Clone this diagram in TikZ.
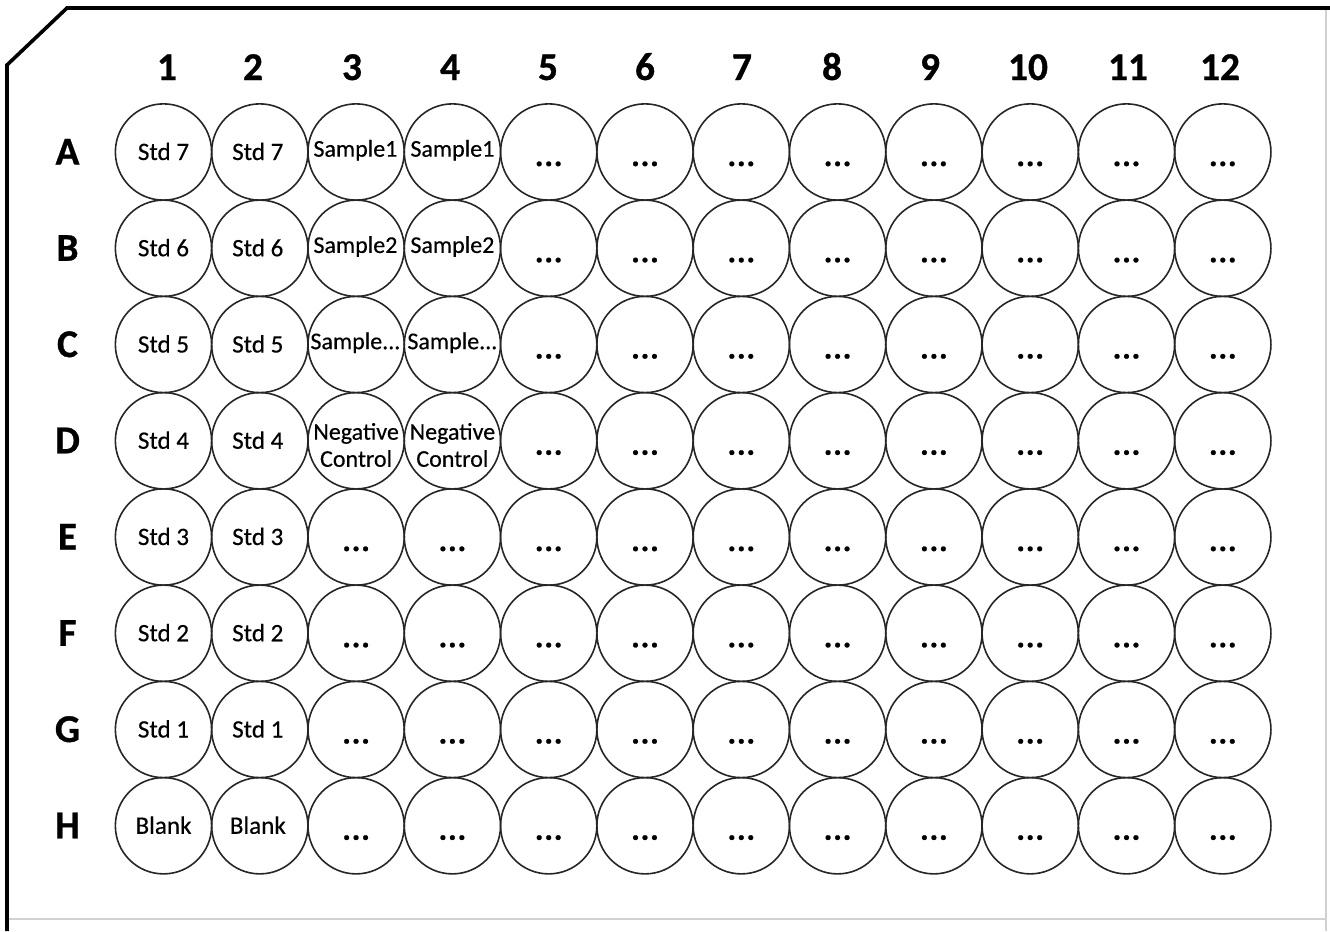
\documentclass[tikz,border=0pt]{standalone}
\usepackage{fontspec}
\setmainfont{Carlito}
\newfontfamily\plateheavy[FakeBold=0.8]{Carlito Bold}
\newfontfamily\platereg[FakeBold=0.4]{Carlito}
\begin{document}
\begin{tikzpicture}[x=0.75pt,y=-0.75pt,
  well/.style={circle,draw=black!85,line width=1.2pt,minimum size=72.2pt,inner sep=0pt},
  head/.style={font=\plateheavy\fontsize{29.5}{32}\selectfont,anchor=base,inner sep=0pt},
  stdtxt/.style={font=\platereg\fontsize{18.8}{21}\selectfont,anchor=base,inner sep=0pt},
  smptxt/.style={font=\platereg\fontsize{18}{20}\selectfont,anchor=base,inner sep=0pt},
  dots/.style={font=\plateheavy\fontsize{24}{26}\selectfont,anchor=base,inner sep=0pt},
  plate/.style={line width=2.7pt,line join=miter},
  faint/.style={draw=black!18,line width=0.8pt}]
\useasboundingbox (0,0) rectangle (1330,931);
% plate outline
\coordinate (pbl) at (7,931);
\coordinate (pc1) at (7,65);
\coordinate (pc2) at (67,8);
\coordinate (ptr) at (1331,8);
\coordinate (prt) at (1326,8);
\coordinate (prb) at (1326,931);
\coordinate (pbb1) at (9,919);
\coordinate (pbb2) at (1326,919);
\draw[faint] (prt) -- (prb);
\draw[faint] (pbb1) -- (pbb2);
\draw[plate] (pbl) -- (pc1) -- (pc2) -- (ptr);
% column headers
\foreach \c/\hx in {1/167,2/253,3/352,4/450,5/548,6/645,7/742,8/832,9/930,10/1028,11/1128,12/1220}
  \node[head] (col\c) at (\hx,80) {\c};
% rows
\foreach \r [count=\i from 0] in {A,B,C,D,E,F,G,H}{
  \pgfmathsetmacro{\yy}{152+96.25*\i}
  \node[head] (row\r) at (67.5,\yy+12.5) {\r};
  \foreach \c [count=\j from 0] in {1,2,3,4,5,6,7,8,9,10,11,12}{
    \pgfmathsetmacro{\xx}{163.5+96.3*\j}
    \node[well] (w\r\c) at (\xx,\yy) {};
  }
}
% standards and blanks
\foreach \r/\t in {A/Std 7,B/Std 6,C/Std 5,D/Std 4,E/Std 3,F/Std 2,G/Std 1,H/Blank}{
  \node[stdtxt] (t\r1) at ([yshift=-6pt]w\r1.center) {\t};
  \node[stdtxt] (t\r2) at ([yshift=-6pt,xshift=-1.5pt]w\r2.center) {\t};
}
% samples
\foreach \r/\t in {A/Sample1,B/Sample2,C/{Sample...}}{
  \node[smptxt] (t\r3) at ([yshift=-3.5pt,xshift=-0.5pt]w\r3.center) {\t};
  \node[smptxt] (t\r4) at ([yshift=-3.5pt]w\r4.center) {\t};
}
\foreach \c in {3,4}{
  \node[smptxt] (tD\c a) at ([yshift=0.8pt]wD\c.center) {Negative};
  \node[smptxt] (tD\c b) at ([yshift=-19.5pt]wD\c.center) {Control};
}
% empty wells
\foreach \r in {E,F,G,H}
  \foreach \c in {3,4}
    \node[dots] (t\r\c) at ([yshift=-10.5pt]w\r\c.center) {.\kern0.7pt.\kern0.7pt.};
\foreach \r in {A,B,C,D,E,F,G,H}
  \foreach \c in {5,6,7,8,9,10,11,12}
    \node[dots] (t\r\c) at ([yshift=-10.5pt]w\r\c.center) {.\kern0.7pt.\kern0.7pt.};
\end{tikzpicture}
\end{document}
